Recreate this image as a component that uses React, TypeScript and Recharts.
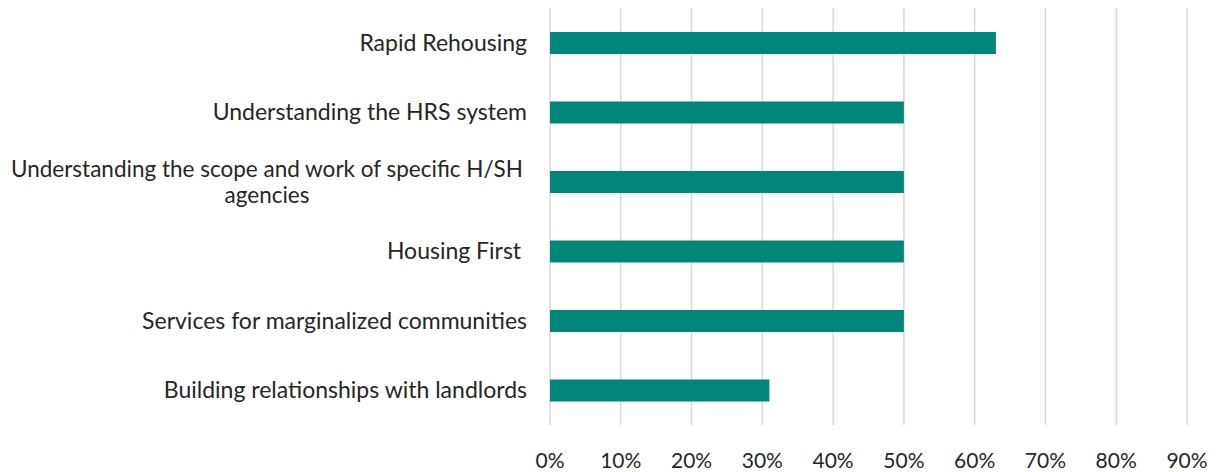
import { BarChart, Bar, XAxis, YAxis, CartesianGrid } from 'recharts';

// categories top to bottom, wrapped lines where the label wraps
const CATEGORIES = [
    ['Rapid Rehousing'],
    ['Understanding the HRS system'],
    ['Understanding the scope and work of specific H/SH', 'agencies'],
    ['Housing First '],
    ['Services for marginalized communities'],
    ['Building relationships with landlords'],
];

const SHARES = [0.63, 0.5, 0.5, 0.5, 0.5, 0.31];

const X_TICKS = [0, 0.1, 0.2, 0.3, 0.4, 0.5, 0.6, 0.7, 0.8, 0.9];

const FONT = 'Lato, "Noto Sans", sans-serif';
const TEXT = '#262626';
const BAR = '#00877a';

const data = CATEGORIES.map((lines, i) => ({
    name: lines.join(' '),
    lines,
    value: SHARES[i],
}));

const CategoryTick = ({ x, y, index }: { x?: number; y?: number; index?: number }) => {
    const lines = CATEGORIES[index ?? 0];
    if (lines.length > 1) {
        // wrapped label is centred as a block
        const cx = (x ?? 0) - 283;
        return (
            <text fill={TEXT} fontSize={22.5} fontFamily={FONT} textAnchor="middle">
                {lines.map((l, i) => (
                    <tspan key={i} x={cx} y={(y ?? 0) + (i - (lines.length - 1) / 2) * 26} dy="0.35em">{l}</tspan>
                ))}
            </text>
        );
    }
    return (
        <text x={(x ?? 0) - 23} y={y} dy="0.35em" fill={TEXT} fontSize={23} fontFamily={FONT} textAnchor="end" style={{ whiteSpace: 'pre' }}>
            {lines[0]}
        </text>
    );
};

export default function App() {
    return (
        <BarChart
            width={1210}
            height={464}
            data={data}
            layout="vertical"
            margin={{ top: 0, right: 31, bottom: 7, left: 0 }}
        >
            <CartesianGrid vertical horizontal={false} stroke="#d9d9d9" strokeWidth={1.5} />
            <XAxis
                type="number"
                domain={[0, 0.9]}
                ticks={X_TICKS}
                height={40}
                axisLine={false}
                tickLine={false}
                tickSize={0}
                tickMargin={28}
                interval={0}
                tick={{ fill: TEXT, fontSize: 21, fontFamily: FONT }}
                tickFormatter={(v: number) => `${Math.round(v * 100)}%`}
            />
            <YAxis
                type="category"
                dataKey="name"
                width={542}
                axisLine={false}
                tickLine={false}
                tickSize={0}
                tickMargin={0}
                interval={0}
                tick={<CategoryTick />}
            />
            <Bar dataKey="value" fill={BAR} barSize={22} isAnimationActive={false} />
        </BarChart>
    );
}
